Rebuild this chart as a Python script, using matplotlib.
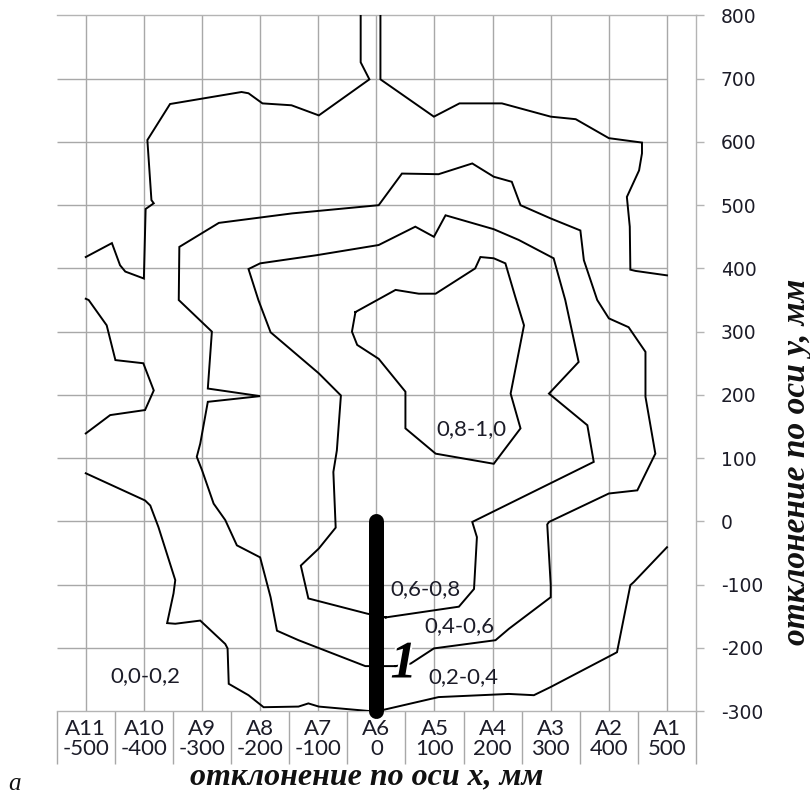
import matplotlib
matplotlib.use("Agg")
import matplotlib.pyplot as plt
import matplotlib.patheffects as pe

# ---------------- data ----------------
cat_names = ['A11', 'A10', 'A9', 'A8', 'A7', 'A6', 'A5', 'A4', 'A3', 'A2', 'A1']
cat_x = [-500, -400, -300, -200, -100, 0, 100, 200, 300, 400, 500]
y_ticks = [-300, -200, -100, 0, 100, 200, 300, 400, 500, 600, 700, 800]

# isoline 0.2 (four pieces)
iso02_a_x = [-27, -27, -12, -99, -146, -196, -220, -232, -355, -394, -387, -383, -397, -400, -432, -441, -455, -500]
iso02_a_y = [800, 726, 699, 642, 658, 661, 677, 679, 660, 603, 508, 503, 494, 384, 395, 405, 440, 418]
iso02_b_x = [7, 7, 99, 143, 216, 300, 343, 400, 457, 457, 452, 431, 436, 437, 446, 500]
iso02_b_y = [800, 699, 640, 661, 661, 640, 636, 606, 599, 582, 555, 513, 466, 398, 396, 389]
iso02_c_x = [-500, -495, -464, -449, -401, -383, -398, -458, -500]
iso02_c_y = [352, 350, 310, 255, 250, 207, 176, 168, 139]
iso02_d_x = [-500, -398, -389, -375, -346, -349, -360, -346, -303, -260, -256, -254, -220, -194, -134, -117,
             -99, -13, 13, 107, 228, 271, 300, 408, 414, 437, 443, 500]
iso02_d_y = [76, 33, 25, -9, -93, -114, -161, -162, -157, -194, -201, -257, -275, -294, -293, -288,
             -293, -300, -298, -278, -273, -275, -262, -210, -207, -101, -96, -41]

# isoline 0.4 (closed)
iso04_x = [33, 59, 99, 205, 228, 300, 300, 294, 297, 400, 449, 480, 463, 463, 434, 400, 380, 357, 351, 300,
           248, 233, 202, 165, 107, 44, 4, -145, -271, -339, -340, -283, -290, -200, -290, -303, -309, -300,
           -280, -260, -240, -200, -182, -171, -134, -19, 33]
iso04_y = [-229, -225, -201, -188, -170, -120, -101, -5, -1, 44, 49, 107, 197, 268, 307, 321, 350, 413, 460, 479,
           500, 537, 545, 566, 549, 550, 500, 487, 472, 434, 350, 300, 210, 198, 189, 123, 102, 81,
           28, 2, -38, -57, -120, -173, -188, -229, -229]

# isoline 0.6 (closed)
iso06_x = [16, 142, 168, 173, 165, 374, 363, 297, 348, 325, 305, 245, 202, 119, 99, 67, 4, -102, -200, -220,
           -203, -182, -99, -61, -68, -74, -70, -99, -130, -117, -16, 16]
iso06_y = [-152, -135, -107, -25, -1, 94, 152, 202, 252, 350, 416, 445, 462, 484, 450, 466, 437, 421, 408, 399,
           350, 299, 234, 199, 112, 78, -10, -43, -70, -122, -146, -152]

# isoline 0.8 (closed)
iso08_x = [-36, 33, 73, 102, 170, 179, 202, 222, 239, 254, 231, 248, 202, 102, 50, 50, 4, -33, -42, -36]
iso08_y = [331, 366, 360, 360, 400, 418, 416, 408, 355, 310, 202, 147, 91, 107, 147, 205, 257, 279, 300, 331]

zone_labels = ['0,0-0,2', '0,2-0,4', '0,4-0,6', '0,6-0,8', '0,8-1,0']
zone_x = [-397, 149, 143, 85, 164]
zone_y = [-254, -256, -175, -117, 136]

bar_x = [0, 0]
bar_y = [0, -300]
marker_text = '1'
marker_x = 47
marker_y = -247

x_title = 'отклонение по оси x, мм'
y_title = 'отклонение по оси y, мм'

# ---------------- styles ----------------
GRID = '#a8a8a8'
AXC = '#b4b4b4'
TXT = '#1c1c28'
SERIF = ['Liberation Serif', 'DejaVu Serif']
SANS = ['Lato', 'DejaVu Sans']

fig = plt.figure(figsize=(8.1, 7.96), dpi=100)
ax = fig.add_axes([0.0700, 0.10678, 0.7893, 0.87375])
ax.set_xlim(-550, 550)
ax.set_ylim(-300, 800)

# grid
ax.vlines(cat_x, -300, 800, color=GRID, lw=1.0, zorder=1)
ax.hlines(y_ticks[1:-1], -550, 500, color=GRID, lw=1.0, zorder=1)

for s in ['left']:
    ax.spines[s].set_visible(False)
for s in ['top', 'right', 'bottom']:
    ax.spines[s].set_color(AXC)
    ax.spines[s].set_linewidth(1.0)

# y axis on right
ax.yaxis.tick_right()
ax.set_yticks(y_ticks)
ax.set_yticklabels([str(v) for v in y_ticks])
ax.tick_params(axis='y', which='major', direction='out', length=5.8, width=1.0, color=AXC,
               pad=12, labelsize=13.5, labelcolor=TXT)
for lb in ax.get_yticklabels():
    lb.set_fontfamily(['DejaVu Sans'])

# x axis categories
ax.set_xticks(cat_x)
ax.set_xticklabels([f'{n}\n{v}' for n, v in zip(cat_names, cat_x)], linespacing=0.95)
ax.set_xticks([c - 50 for c in cat_x] + [550], minor=True)
ax.tick_params(axis='x', which='major', length=0, pad=6, labelsize=16, labelcolor=TXT)
ax.tick_params(axis='x', which='minor', direction='out', length=38, width=1.0, color=GRID)
for lb in ax.get_xticklabels():
    lb.set_fontfamily(SANS)

# isolines
lines = [(iso02_a_x, iso02_a_y), (iso02_b_x, iso02_b_y), (iso02_c_x, iso02_c_y), (iso02_d_x, iso02_d_y),
         (iso04_x, iso04_y), (iso06_x, iso06_y), (iso08_x, iso08_y)]
for lx, ly in lines:
    ax.plot(lx, ly, color='black', lw=1.4, zorder=3, solid_joinstyle='miter')

# zone labels
for t, x, y in zip(zone_labels, zone_x, zone_y):
    ax.text(x, y, t, ha='center', va='baseline', fontsize=16, color=TXT, family=SANS, zorder=5)

# bar and marker
ax.plot(bar_x, bar_y, color='black', lw=10.8, solid_capstyle='round', zorder=4, clip_on=False)
ax.text(marker_x, marker_y, marker_text, ha='center', va='baseline', fontsize=38, fontweight='bold',
        fontstyle='italic', family=SERIF, color='black', zorder=6,
        path_effects=[pe.withStroke(linewidth=3, foreground='white')])

# axis titles
fig.text(367 / 810, (796 - 784) / 796, x_title, ha='center', va='baseline', fontsize=23,
         fontweight='bold', fontstyle='italic', family=SERIF, color='#111111')
fig.text(796 / 810, (796 - 462) / 796, y_title, ha='center', va='center', rotation=90, fontsize=24,
         fontweight='bold', fontstyle='italic', family=SERIF, color='#111111')
fig.text(8 / 810, 1.0 / 796, 'а', ha='left', va='bottom', fontsize=18, fontstyle='italic',
         family=SERIF, color='#111111')

fig.savefig('out.png', dpi=100)
